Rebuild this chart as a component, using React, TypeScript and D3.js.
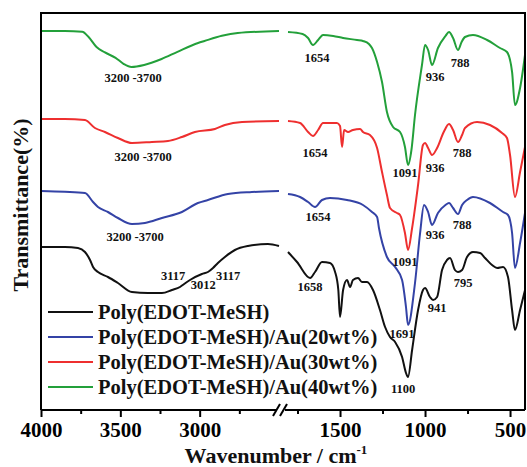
import React, { useEffect, useRef } from 'react';
import * as d3 from 'd3';

// FTIR spectra, broken x axis: 4000-2500 and 1806-412 cm-1
// values are transmittance in arbitrary (offset) units
const seriesNames = [
  'Poly(EDOT-MeSH)',
  'Poly(EDOT-MeSH)/Au(20wt%)',
  'Poly(EDOT-MeSH)/Au(30wt%)',
  'Poly(EDOT-MeSH)/Au(40wt%)',
];
const seriesColors = ['#111111', '#3443a6', '#ee2f2f', '#23a03a'];

const blackHigh: [number, number][] = [
  [4000, 41.5], [3850, 41.5], [3767, 41.25], [3723, 40.25], [3691, 38.25], [3672, 36.5], [3641, 35.25],
  [3578, 34], [3515, 32.5], [3427, 30.25], [3326, 30], [3238, 30], [3175, 30.75], [3124, 31.5], [3100, 32.2],
  [3061, 33.25], [2986, 34.75], [2948, 35.25], [2916, 36.25], [2885, 37.5], [2841, 39], [2778, 40.75],
  [2696, 41.75], [2570, 42.25], [2500, 41.75],
];
const blackLow: [number, number][] = [
  [1806, 40.25], [1753, 37.75], [1676, 33.75], [1647, 35.25], [1606, 37.75], [1559, 37.5], [1529, 35.25],
  [1510, 30.75], [1500, 24], [1482, 30.75], [1459, 33.25], [1441, 31.5], [1424, 33.25], [1394, 33.75],
  [1371, 32.75], [1341, 32.75], [1306, 30.75], [1265, 25.75], [1235, 21.5], [1206, 19], [1176, 17.75],
  [1135, 14], [1112, 10], [1100, 9], [1076, 15.75], [1041, 25.75], [1012, 30.75], [1000, 31.25], [971, 29],
  [953, 28.25], [929, 29], [900, 35.75], [871, 38.25], [853, 38.75], [824, 35.75], [806, 35.25], [782, 35.75],
  [753, 39], [718, 40.25], [676, 40], [647, 38.75], [606, 37], [576, 36.25], [541, 36.5], [512, 34],
  [488, 25.75], [471, 20.75], [441, 25.75], [412, 30.75],
];

const blueHigh: [number, number][] = [
  [4000, 55.5], [3850, 55.3], [3723, 55], [3672, 52.75], [3641, 51.5], [3578, 50.25], [3515, 48.75],
  [3427, 47.25], [3345, 47.5], [3238, 48.75], [3112, 50.25], [3011, 52.5], [2948, 53.25], [2822, 54.75],
  [2671, 55.25], [2500, 55.5],
];
const blueLow: [number, number][] = [
  [1806, 54.75], [1735, 54], [1688, 52.75], [1647, 51.5], [1606, 53.25], [1559, 53.75], [1459, 53.25],
  [1365, 52], [1312, 50.25], [1282, 49], [1271, 46.25], [1224, 39], [1176, 36.5], [1135, 33.25], [1112, 26.5],
  [1100, 22], [1059, 32.5], [1029, 45], [1006, 52], [982, 50.25], [959, 47], [924, 50], [880, 52], [859, 52.5],
  [835, 51.25], [806, 49.75], [782, 52], [753, 53.25], [718, 54], [618, 52.5], [541, 50.25], [512, 49.5],
  [488, 45], [471, 36.25], [441, 42.5], [412, 50],
];

const redHigh: [number, number][] = [
  [4000, 73.5], [3850, 73.5], [3723, 73.25], [3660, 71.25], [3597, 70.25], [3515, 68.75], [3427, 67.5],
  [3301, 67.75], [3200, 68], [3112, 69], [3030, 70.25], [2904, 71], [2841, 72], [2733, 72.75], [2500, 73],
];
const redLow: [number, number][] = [
  [1806, 73], [1735, 72.5], [1688, 70.25], [1659, 69.25], [1629, 70.75], [1600, 72.5], [1518, 72.5],
  [1500, 71.75], [1488, 66.5], [1476, 70.75], [1453, 70.25], [1424, 70.75], [1382, 71], [1365, 70.25],
  [1324, 69.5], [1282, 66.25], [1253, 60.25], [1224, 54.5], [1206, 51.25], [1165, 50], [1147, 49.5],
  [1118, 45], [1100, 40.75], [1076, 46.25], [1041, 57], [1012, 67], [1000, 67.5], [982, 66.25], [959, 64.5],
  [929, 66.25], [890, 70.25], [859, 72.25], [835, 70.75], [806, 67.75], [782, 69.5], [765, 71.25],
  [694, 72.75], [618, 72], [547, 70], [518, 68.75], [500, 64.5], [471, 54], [441, 60.25], [412, 66.5],
];

const greenHigh: [number, number][] = [
  [4000, 95.5], [3850, 95.5], [3740, 95.3], [3700, 94], [3650, 91.5], [3600, 90.2], [3530, 88.8],
  [3480, 87.3], [3430, 86.5], [3350, 87], [3240, 88.5], [3140, 90.3], [3010, 92.5], [2970, 93],
  [2860, 94.3], [2760, 95], [2500, 95.5],
];
const greenLow: [number, number][] = [
  [1806, 95.25], [1720, 94.75], [1688, 93.75], [1659, 92], [1629, 93.25], [1600, 94.5], [1540, 94.25],
  [1482, 93.75], [1400, 93.25], [1365, 93], [1330, 92.25], [1312, 91.25], [1282, 87.75], [1253, 82.75],
  [1224, 75.25], [1188, 71.5], [1147, 70.25], [1118, 66.5], [1100, 62], [1080, 65.75], [1059, 74.5],
  [1018, 87], [1000, 92], [982, 90.75], [959, 87], [924, 91.25], [880, 94.25], [859, 95.25], [835, 93.75],
  [806, 90.75], [785, 92.75], [765, 94], [718, 94.5], [635, 93.25], [559, 91.25], [518, 90.25], [488, 85.25],
  [471, 77], [441, 81.25], [412, 89.5],
];

const seriesHigh = [blackHigh, blueHigh, redHigh, greenHigh];
const seriesLow = [blackLow, blueLow, redLow, greenLow];

// peak annotations: [wavenumber, value, text]
const labelsHigh: [number, number, string][] = [
  [3420, 83.75, '3200 -3700'],
  [3356, 64, '3200 -3700'],
  [3407, 44, '3200 -3700'],
  [3167, 34.25, '3117'],
  [2978, 32, '3012'],
  [2820, 34.25, '3117'],
];
const labelsLow: [number, number, string][] = [
  [1635, 88.75, '1654'], [1118, 60, '1091'], [941, 84, '936'], [794, 87.5, '788'],
  [1647, 65, '1654'], [1118, 37.75, '1091'], [941, 61.25, '936'], [782, 65, '788'],
  [1629, 49, '1654'], [1135, 19.75, '1691'], [941, 44.5, '936'], [782, 47, '788'],
  [1676, 31.5, '1658'], [1129, 6, '1100'], [929, 26.25, '941'], [776, 32.5, '795'],
];

const ticksHigh = [4000, 3500, 3000];
const minorHigh = [3750, 3250, 2750];
const ticksLow = [1500, 1000, 500];
const minorLow = [1750, 1250, 750];

const W = 527;
const H = 467;
const left = 41;
const right = 525;
const top = 13;
const bottom = 410;
const FONT = '"Liberation Serif", "Times New Roman", serif';

const xHigh = d3.scaleLinear().domain([4000, 2500]).range([left, 279]);
const xLow = d3.scaleLinear().domain([1806, 412]).range([288, right]);
const y = d3.scaleLinear().domain([0, 100]).range([413, 13]);

const App = () => {
  const axisRef = useRef<SVGGElement>(null);

  useEffect(() => {
    if (!axisRef.current) return;
    const g = d3.select(axisRef.current);
    g.selectAll('*').remove();

    const addAxis = (scale: d3.ScaleLinear<number, number>, major: number[], minor: number[]) => {
      g.append('g')
        .attr('transform', `translate(0,${bottom})`)
        .call(d3.axisBottom(scale).tickValues(major).tickSize(7).tickPadding(5).tickFormat(d3.format('d')))
        .call(a => a.select('.domain').remove())
        .call(a => a.selectAll('line').attr('stroke', '#000').attr('stroke-width', 2))
        .call(a => a.selectAll('text')
          .attr('fill', '#000')
          .style('font-family', FONT)
          .style('font-size', '21px')
          .style('font-weight', 'bold'));
      g.append('g')
        .attr('transform', `translate(0,${bottom})`)
        .call(d3.axisBottom(scale).tickValues(minor).tickSize(4).tickFormat(() => ''))
        .call(a => a.select('.domain').remove())
        .call(a => a.selectAll('line').attr('stroke', '#000').attr('stroke-width', 2));
    };
    addAxis(xHigh, ticksHigh, minorHigh);
    addAxis(xLow, ticksLow, minorLow);
  }, []);

  const lineHigh = d3.line<[number, number]>().x(d => xHigh(d[0])).y(d => y(d[1])).curve(d3.curveMonotoneX);
  const lineLow = d3.line<[number, number]>().x(d => xLow(d[0])).y(d => y(d[1])).curve(d3.curveMonotoneX);

  return (
    <svg width={W} height={H} style={{ position: 'absolute', left: 0, top: 0, background: '#fff' }}>
      {seriesHigh.map((s, i) => (
        <path key={'h' + i} d={lineHigh(s) || ''} fill="none" stroke={seriesColors[i]} strokeWidth={2} strokeLinejoin="round" />
      ))}
      {seriesLow.map((s, i) => (
        <path key={'l' + i} d={lineLow(s) || ''} fill="none" stroke={seriesColors[i]} strokeWidth={2} strokeLinejoin="round" />
      ))}

      <g fontFamily={FONT} fontWeight="bold" fontSize={12.5} fill="#111" textAnchor="middle">
        {labelsHigh.map((l, i) => (
          <text key={'lh' + i} x={xHigh(l[0])} y={y(l[1])} dy="0.35em">{l[2]}</text>
        ))}
        {labelsLow.map((l, i) => (
          <text key={'ll' + i} x={xLow(l[0])} y={y(l[1])} dy="0.35em">{l[2]}</text>
        ))}
      </g>

      {/* frame */}
      <path d={`M${left},${bottom}V${top}H${right}V${bottom}`} fill="none" stroke="#000" strokeWidth={2} />
      <line x1={left} x2={276} y1={bottom} y2={bottom} stroke="#000" strokeWidth={2} />
      <line x1={285} x2={right} y1={bottom} y2={bottom} stroke="#000" strokeWidth={2} />
      <line x1={273} y1={416} x2={280} y2={404} stroke="#000" strokeWidth={2} />
      <line x1={280} y1={416} x2={287} y2={404} stroke="#000" strokeWidth={2} />

      <g ref={axisRef} />

      {/* legend */}
      <g fontFamily={FONT} fontWeight="bold" fontSize={20.5} fill="#111">
        {seriesNames.map((n, i) => (
          <g key={n} transform={`translate(0,${312 + i * 25})`}>
            <line x1={48} x2={93} y1={0} y2={0} stroke={seriesColors[i]} strokeWidth={2} />
            <text x={98} y={0} dy="0.35em">{n}</text>
          </g>
        ))}
      </g>

      <text x={276} y={463} textAnchor="middle" fontFamily={FONT} fontWeight="bold" fontSize={22} fill="#111">
        Wavenumber / cm<tspan dy={-9} fontSize={13}>-1</tspan>
      </text>
      <text transform="translate(28,205) rotate(-90)" textAnchor="middle" fontFamily={FONT} fontWeight="bold" fontSize={22} fill="#111">
        Transmittance(%)
      </text>
    </svg>
  );
};

export default App;
